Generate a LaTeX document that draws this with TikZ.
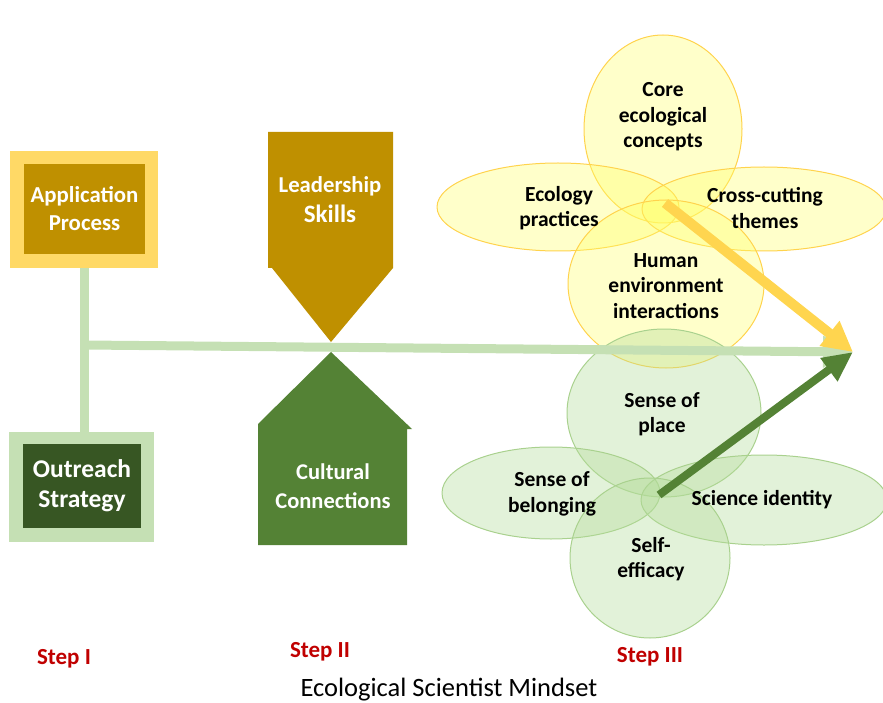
\documentclass[tikz,border=0pt]{standalone}
\usepackage{fontspec}
\setmainfont{Carlito}
\usetikzlibrary{arrows.meta,shapes.geometric}
\definecolor{gold}{HTML}{BF9000}
\definecolor{paleyellow}{HTML}{FFD966}
\definecolor{palegreen}{HTML}{C5E0B4}
\definecolor{darkgreen}{HTML}{375623}
\definecolor{midgreen}{HTML}{548235}
\definecolor{petalyellow}{HTML}{FFFF66}
\definecolor{petalyedge}{HTML}{FFD34D}
\definecolor{petalgreen}{HTML}{B4DC9A}
\definecolor{petalgedge}{HTML}{A9D18E}
\definecolor{steprd}{HTML}{C00000}
\definecolor{arrowyellow}{HTML}{FFD54F}
\begin{document}
\begin{tikzpicture}[x=1pt,y=-1pt,
  whitelabel/.style={text=white,align=center},
  ypetal/.style={ellipse,draw=petalyedge,line width=1pt,fill=petalyellow,fill opacity=0.35,inner sep=0pt},
  gpetal/.style={ellipse,draw=petalgedge,line width=1pt,fill=petalgreen,fill opacity=0.38,inner sep=0pt},
  petaltext/.style={font=\fontsize{21.5}{25.5}\selectfont\bfseries,align=center},
  steplabel/.style={text=steprd,font=\fontsize{23}{26}\selectfont\bfseries}]
\useasboundingbox (0,0) rectangle (883,703);

% Step I boxes
\node[fill=paleyellow,minimum width=148pt,minimum height=117pt,inner sep=0pt] (appframe) at (84,209.5) {};
\node[fill=gold,minimum width=121pt,minimum height=90pt,inner sep=0pt] (app) at (84.5,209) {};
\node[whitelabel,font=\fontsize{22.8}{28}\selectfont\bfseries] at (app) {Application\\Process};
\node[fill=palegreen,minimum width=145pt,minimum height=110pt,inner sep=0pt] (outframe) at (81.5,487) {};
\node[fill=darkgreen,minimum width=118pt,minimum height=84pt,inner sep=0pt] (out) at (82,486) {};
\node[whitelabel,font=\fontsize{25.5}{30}\selectfont\bfseries] at (out) {Outreach\\Strategy};

% Step II arrows
\fill[gold] (268,132) -- (393,132) -- (393,268) -- (331,342) -- (272,268) -- (268,268) -- cycle;
\node[whitelabel,font=\fontsize{22.7}{26}\selectfont\bfseries] (lead) at (330,186) {Leadership};
\node[whitelabel,font=\fontsize{25}{28}\selectfont\bfseries] (skills) at (330,214) {Skills};
\fill[midgreen] (331,352) -- (412,429) -- (407,429) -- (407,545) -- (258,545) -- (258,424) -- cycle;
\node[whitelabel,font=\fontsize{22.5}{29}\selectfont\bfseries] (cult) at (333,486) {Cultural\\Connections};

% Step III petals: content knowledge
\node[ypetal,minimum width=158pt,minimum height=188pt] (core) at (663,129) {};
\node[ypetal,minimum width=242pt,minimum height=88pt] (prac) at (558,207) {};
\node[ypetal,minimum width=244pt,minimum height=84pt] (cross) at (764,209) {};
\node[ypetal,minimum width=196pt,minimum height=168pt] (human) at (666,284) {};
% Step III petals: identity
\node[gpetal,minimum width=194pt,minimum height=168pt] (place) at (664,413) {};
\node[gpetal,minimum width=218pt,minimum height=92pt] (belong) at (551,493) {};
\node[gpetal,minimum width=246pt,minimum height=90pt] (ident) at (764,500) {};
\node[gpetal,minimum width=160pt,minimum height=160pt] (self) at (650,558) {};

\node[petaltext] at (663,117) {Core\\ecological\\concepts};
\node[petaltext] at (559,208) {Ecology\\practices};
\node[petaltext] at (765,208) {Cross-cutting\\themes};
\node[petaltext] at (666,286) {Human\\environment\\interactions};
\node[petaltext] at (662,414) {Sense of\\place};
\node[petaltext] at (552,494) {Sense of\\belonging};
\node[petaltext] at (762,500) {Science identity};
\node[petaltext] at (651,559) {Self-\\efficacy};

% connectors
\coordinate (mind) at (853,352);
\coordinate (junction) at (84,345);
\coordinate (ycore) at (665,203);
\coordinate (gcore) at (659,495);
\draw[palegreen,line width=9pt] (appframe.south) -- (appframe.south |- outframe.north);
\draw[palegreen,line width=9pt,-{Triangle[length=30pt,width=30pt]}] (junction) -- (mind);
\draw[arrowyellow,line width=10pt,-{Triangle[length=30pt,width=30pt]}] (ycore) -- (mind);
\draw[midgreen,line width=8pt,-{Triangle[length=30pt,width=27pt]}] (gcore) -- (mind);

% step labels and title
\node[steplabel] at (64,659) {Step I};
\node[steplabel] at (320,652) {Step II};
\node[steplabel] at (650,657) {Step III};
\node[font=\fontsize{26.5}{30}\selectfont] at (449,690) {Ecological Scientist Mindset};
\end{tikzpicture}
\end{document}
